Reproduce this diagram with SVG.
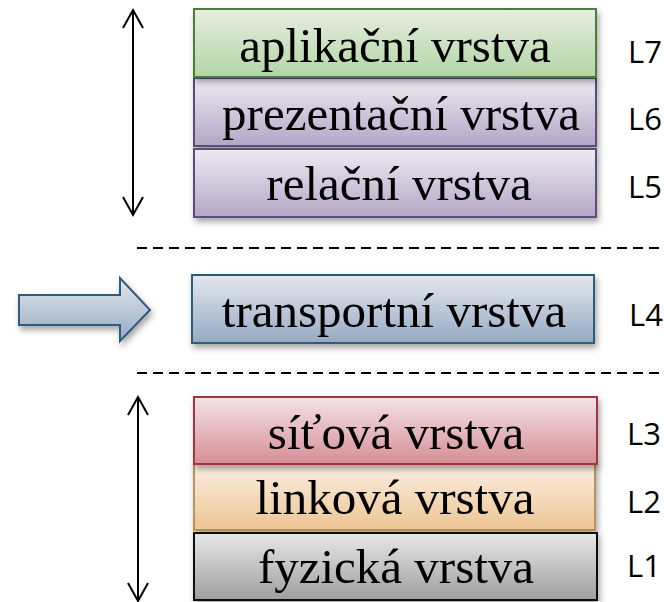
<svg xmlns="http://www.w3.org/2000/svg" width="664" height="602" viewBox="0 0 664 602">
<defs>
<linearGradient id="gGreen" x1="0" y1="0" x2="0" y2="1"><stop offset="0" stop-color="#e7eee2"/><stop offset="1" stop-color="#b2d5a5"/></linearGradient>
<linearGradient id="gPurple" x1="0" y1="0" x2="0" y2="1"><stop offset="0" stop-color="#eeebf2"/><stop offset="1" stop-color="#b4a6c6"/></linearGradient>
<linearGradient id="gBlue" x1="0" y1="0" x2="0" y2="1"><stop offset="0" stop-color="#e4e8ee"/><stop offset="1" stop-color="#95aac3"/></linearGradient>
<linearGradient id="gRed" x1="0" y1="0" x2="0" y2="1"><stop offset="0" stop-color="#f3e3e5"/><stop offset="1" stop-color="#d68e96"/></linearGradient>
<linearGradient id="gOrange" x1="0" y1="0" x2="0" y2="1"><stop offset="0" stop-color="#fcf0e5"/><stop offset="1" stop-color="#ecc592"/></linearGradient>
<linearGradient id="gGray" x1="0" y1="0" x2="0" y2="1"><stop offset="0" stop-color="#e8e8e8"/><stop offset="1" stop-color="#9e9e9e"/></linearGradient>
<filter id="sh" x="-10%" y="-20%" width="125%" height="150%"><feDropShadow dx="2" dy="4" stdDeviation="3" flood-color="#000" flood-opacity="0.35"/></filter>
</defs>
<style>
.box{stroke-width:2}
.t{font-family:"Liberation Serif","Times New Roman",serif;font-size:49px;fill:#000;text-anchor:middle}
.lab{font-family:"Open Sans","Liberation Sans",sans-serif;font-size:31px;fill:#000}
.dash{stroke:#000;stroke-width:2;stroke-dasharray:10 6;fill:none}
.arr{stroke:#000;stroke-width:2;fill:none}
</style>

<g id="connectors">
<line class="dash" x1="137" y1="248" x2="664" y2="248"/>
<line class="dash" x1="137" y1="373" x2="664" y2="373"/>
<path class="arr" d="M133 11V214M123 28L133 10L143 28M123 197L133 215L143 197"/>
<path class="arr" d="M138 398V600M128 415L138 397L148 415M128 583L138 601L148 583"/>
<polygon points="19,295 120,295 120,278 150,310 120,341 120,325 19,325" fill="url(#gBlue)" stroke="#2e5b7c" stroke-width="2" filter="url(#sh)"/>
</g>

<g id="L6">
<rect class="box" x="194" y="78" width="402" height="68" fill="url(#gPurple)" stroke="#5d4b7b" filter="url(#sh)"/>
<text class="t" x="401" y="130">prezentační vrstva</text>
<text class="lab" x="628" y="130">L6</text>
</g>
<g id="L7">
<rect class="box" x="194" y="9" width="402" height="68" fill="url(#gGreen)" stroke="#4e7d3a" filter="url(#sh)"/>
<text class="t" x="395" y="62">aplikační vrstva</text>
<text class="lab" x="628" y="63">L7</text>
</g>
<g id="L5">
<rect class="box" x="194" y="149" width="402" height="68" fill="url(#gPurple)" stroke="#5d4b7b" filter="url(#sh)"/>
<text class="t" x="399" y="200">relační vrstva</text>
<text class="lab" x="628" y="198">L5</text>
</g>
<g id="L4">
<rect class="box" x="192" y="275" width="402" height="68" fill="url(#gBlue)" stroke="#2e5b7c" filter="url(#sh)"/>
<text class="t" x="394" y="327">transportní vrstva</text>
<text class="lab" x="629" y="326">L4</text>
</g>
<g id="L2">
<rect class="box" x="194" y="462" width="401" height="68" fill="url(#gOrange)" stroke="#b8925e" filter="url(#sh)"/>
<text class="t" x="395" y="514">linková vrstva</text>
<text class="lab" x="627" y="513">L2</text>
</g>
<g id="L3">
<rect class="box" x="194" y="397" width="403" height="67" fill="url(#gRed)" stroke="#a2343f" filter="url(#sh)"/>
<text class="t" x="396" y="449">síťová vrstva</text>
<text class="lab" x="627" y="445">L3</text>
</g>
<g id="L1">
<rect class="box" x="194" y="533" width="403" height="67" fill="url(#gGray)" stroke="#111" filter="url(#sh)"/>
<text class="t" x="396" y="583">fyzická vrstva</text>
<text class="lab" x="627" y="577">L1</text>
</g>
</svg>
